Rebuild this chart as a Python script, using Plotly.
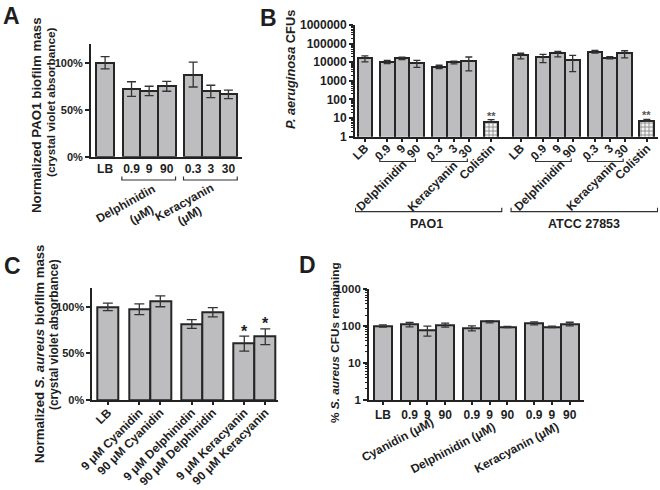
import math
import plotly.graph_objects as go

W, H = 660, 490
FONT = "Liberation Sans, Arial, sans-serif"
TXT = "#1e1e1e"
BAR_FILL = "#bdbdbf"
BAR_LINE = "#262626"
ERR = "#333333"

# ---------------- Panel A data ----------------
a_groups = [["LB"], ["0.9", "9", "90"], ["0.3", "3", "30"]]
a_group_names = ["", "Delphinidin", "Keracyanin"]
a_values = [1.00, 0.72, 0.70, 0.75, 0.875, 0.695, 0.663]
a_errors = [0.065, 0.078, 0.050, 0.053, 0.133, 0.066, 0.045]

# ---------------- Panel B data ----------------
b_strains = ["PAO1", "ATCC 27853"]
b_groups = [["LB"], ["0.9", "9", "90"], ["0.3", "3", "30"], ["Colistin"]]
b_group_names = ["", "Delphinidin", "Keracyanin", ""]
b_pao1_values = [16000, 10700, 16000, 9100, 5800, 10000, 11700, 5.9]
b_pao1_err_plus = [6000, 2000, 2500, 3600, 1100, 1500, 7400, 2.3]
b_pao1_err_minus = [5500, 2300, 2200, 3800, 1300, 1900, 8300, 0]
b_atcc_values = [23600, 18500, 30300, 13200, 37000, 17700, 30300, 6.7]
b_atcc_err_plus = [6700, 8200, 8300, 10400, 6700, 2300, 11000, 1.8]
b_atcc_err_minus = [8600, 9000, 11100, 10100, 5600, 2700, 13300, 0]
b_sig = ["", "", "", "", "", "", "", "**"]

# ---------------- Panel C data ----------------
c_groups = [["LB"], ["9 μM Cyanidin", "90 μM Cyanidin"],
            ["9 μM Delphinidin", "90 μM Delphinidin"],
            ["9 μM Keracyanin", "90 μM Keracyanin"]]
c_values = [1.00, 0.975, 1.06, 0.817, 0.942, 0.605, 0.68]
c_errors = [0.040, 0.058, 0.058, 0.047, 0.050, 0.081, 0.085]
c_sig = ["", "", "", "", "", "*", "*"]

# ---------------- Panel D data ----------------
d_groups = [["LB"], ["0.9", "9", "90"], ["0.9", "9", "90"], ["0.9", "9", "90"]]
d_group_names = ["", "Cyanidin (μM)", "Delphinidin (μM)", "Keracyanin (μM)"]
d_values = [100, 111, 76, 109, 90, 134, 96, 121, 96, 116]
d_err_plus = [9, 15, 24, 12, 12, 5, 2, 10, 4, 12]
d_err_minus = [6, 15, 22, 15, 15, 11, 4, 12, 4, 14]


def layout_positions(groups, gap=0.5, start=0.0):
    """Bar centres: bars touch inside a group, groups separated by a gap."""
    pos, spans, x = [], [], start
    for gi, g in enumerate(groups):
        if gi > 0:
            x += gap
        first = x
        for _ in g:
            pos.append(x)
            x += 1
        spans.append((first, x - 1))
    return pos, spans, x


def px(x):
    return x / W


def py(y):
    return 1 - y / H


a_pos, a_spans, _ = layout_positions(a_groups)
a_labels = [l for g in a_groups for l in g]

b_pos, b_spans, b_strain_spans = [], [], []
nxt = 0.0
for si, s in enumerate(b_strains):
    p, sp, end = layout_positions(b_groups, start=nxt)
    b_pos += p
    b_spans.append(sp)
    b_strain_spans.append((p[0], p[-1]))
    nxt = end + 1.0
b_labels = [l for g in b_groups for l in g] * 2
b_values = b_pao1_values + b_atcc_values
b_ep = b_pao1_err_plus + b_atcc_err_plus
b_em = b_pao1_err_minus + b_atcc_err_minus
b_sigs = b_sig * 2

c_pos, c_spans, _ = layout_positions(c_groups)
c_labels = [l for g in c_groups for l in g]

d_pos, d_spans, _ = layout_positions(d_groups)
d_labels = [l for g in d_groups for l in g]

fig = go.Figure()


def bar(x, y, xa, ya, ep, em, capw, fill=BAR_FILL, pattern=None):
    m = dict(color=fill, line=dict(color=BAR_LINE, width=2))
    if pattern:
        m["pattern"] = pattern
    return go.Bar(x=x, y=y, width=1, xaxis=xa, yaxis=ya, marker=m,
                  error_y=dict(type="data", array=ep, arrayminus=em, symmetric=False,
                               color=ERR, thickness=1.3, width=capw),
                  showlegend=False, hoverinfo="skip")


fig.add_trace(bar(a_pos, a_values, "x", "y", a_errors, a_errors, 4.5))

col_idx = [i for i, l in enumerate(b_labels) if l == "Colistin"]
oth_idx = [i for i, l in enumerate(b_labels) if l != "Colistin"]
fig.add_trace(bar([b_pos[i] for i in oth_idx], [b_values[i] for i in oth_idx], "x2", "y2",
                  [b_ep[i] for i in oth_idx], [b_em[i] for i in oth_idx], 3.5))
fig.add_trace(bar([b_pos[i] for i in col_idx], [b_values[i] for i in col_idx], "x2", "y2",
                  [b_ep[i] for i in col_idx], [b_em[i] for i in col_idx], 3.5,
                  fill="#f4f4f4",
                  pattern=dict(shape="+", fgcolor="#7a7a7a", bgcolor="#f4f4f4",
                               size=4, solidity=0.35, fillmode="replace")))

fig.add_trace(bar(c_pos, c_values, "x3", "y3", c_errors, c_errors, 5))
fig.add_trace(bar(d_pos, d_values, "x4", "y4", d_err_plus, d_err_minus, 4))

axis_common = dict(showline=True, linecolor="#222", linewidth=1.8, showgrid=False,
                   zeroline=False, ticks="outside", tickcolor="#222", tickwidth=1.5,
                   fixedrange=True, automargin=False)


def tf(size):
    return dict(family=FONT, size=size, color=TXT, weight="bold")


fig.update_layout(
    width=W, height=H, margin=dict(l=0, r=0, t=0, b=0, autoexpand=False),
    paper_bgcolor="white", plot_bgcolor="white", bargap=0,
    xaxis=dict(axis_common, domain=[px(91), px(242)], range=[-0.8, 7.77], anchor="y",
               tickmode="array", tickvals=a_pos, ticktext=a_labels, ticks="",
               tickfont=tf(12)),
    yaxis=dict(axis_common, domain=[py(156.7), py(44)], range=[0, 1.2], anchor="x",
               tickmode="array", tickvals=[0, 0.5, 1.0], ticktext=["0%", "50%", "100%"],
               ticklen=4, tickfont=tf(11)),
    xaxis2=dict(axis_common, domain=[px(355), px(658)], range=[-0.67, 19.75], anchor="y2",
                tickmode="array", tickvals=b_pos, ticktext=b_labels, ticklen=3,
                tickangle=-45, tickfont=tf(12), ticklabelstandoff=-5),
    yaxis2=dict(axis_common, domain=[py(136.7), py(25)], type="log", range=[0, 6],
                anchor="x2", tickmode="array", tickvals=[10 ** k for k in range(7)],
                ticktext=[str(10 ** k) for k in range(7)], ticklen=4, tickfont=tf(12),
                minor=dict(ticks="outside", ticklen=2, tickwidth=1, tickcolor="#222",
                           dtick="D1")),
    xaxis3=dict(axis_common, domain=[px(92.3), px(278.3)], range=[-0.74, 8.12],
                anchor="y3", tickmode="array", tickvals=c_pos, ticktext=c_labels,
                ticklen=3, tickangle=-45, tickfont=tf(12), ticklabelstandoff=-4),
    yaxis3=dict(axis_common, domain=[py(400), py(288.3)], range=[0, 1.2], anchor="x3",
                tickmode="array", tickvals=[0, 0.5, 1.0], ticktext=["0%", "50%", "100%"],
                ticklen=4, tickfont=tf(11)),
    xaxis4=dict(axis_common, domain=[px(369), px(584)], range=[-0.78, 11.3], anchor="y4",
                tickmode="array", tickvals=d_pos, ticktext=d_labels, ticklen=3,
                tickfont=tf(12)),
    yaxis4=dict(axis_common, domain=[py(400), py(289.3)], type="log", range=[0, 3],
                anchor="x4", tickmode="array", tickvals=[1, 10, 100, 1000],
                ticktext=["1", "10", "100", "1000"], ticklen=4, tickfont=tf(11.5),
                minor=dict(ticks="outside", ticklen=2, tickwidth=1, tickcolor="#222",
                           dtick="D1")),
)

ann = []
shapes = []


def text_px(text, x, y, size, angle=0):
    ann.append(dict(text="<b>" + text + "</b>", x=px(x), y=py(y), xref="paper", yref="paper",
                    showarrow=False, textangle=angle, xanchor="center", yanchor="middle",
                    font=dict(family=FONT, size=size, color=TXT)))


def bracket(xref, x0, x1, ypx, up=3.5):
    yb, yt = py(ypx), py(ypx - up)
    shapes.append(dict(type="path", xref=xref, yref="paper",
                       path=f"M {x0},{yt} L {x0},{yb} L {x1},{yb} L {x1},{yt}",
                       line=dict(color="#333", width=1.2)))


# Panel letters
text_px("A", 11, 16, 23)
text_px("B", 268, 18, 23)
text_px("C", 13, 266, 23)
text_px("D", 307, 265, 23)

# Axis titles
text_px("Normalized PAO1 biofilm mass", 36, 115, 13.3, -90)
text_px("(crystal violet absorbance)", 51, 102, 11.8, -90)
text_px("<i>P. aeruginosa</i> CFUs", 291, 70, 12.8, -90)
text_px("Normalized <i>S. aureus</i> biofilm mass", 39, 354, 13.2, -90)
text_px("(crystal violet absorbance)", 54, 335, 11.9, -90)
text_px("% <i>S. aureus</i> CFUs remaining", 335, 343, 11.8, -90)

# Panel A group brackets and labels
for (f, l), name in zip(a_spans, a_group_names):
    if name:
        bracket("x", f - 0.55, l + 0.5, 180)
text_px("Delphinidin", 125, 204, 12, -29)
text_px("(μM)", 141, 215, 12, -29)
text_px("Keracyanin", 185, 202, 12, -29)
text_px("(μM)", 189, 216, 12, -29)

# Panel B brackets and labels
b_label_px = [[(381, 186), (433, 186)], [(539, 186), (591, 186)]]
for si, spans in enumerate(b_spans):
    k = 0
    for (f, l), name in zip(spans, b_group_names):
        if name:
            bracket("x2", f - 0.5, l - 0.1, 161.5, 3)
            text_px(name, b_label_px[si][k][0], b_label_px[si][k][1], 12, -45)
            k += 1
for (f, l), s, cx in zip(b_strain_spans, b_strains, [426, 584]):
    bracket("x2", f - 0.65, l + 0.72, 211.7, 4)
    text_px(s, cx, 224, 12.5)

for x, v, e, s in zip(b_pos, b_values, b_ep, b_sigs):
    if s:
        ann.append(dict(text="<b>" + s + "</b>", x=x, y=math.log10(v + e), xref="x2", yref="y2",
                        showarrow=False, yanchor="middle", yshift=4,
                        font=dict(family=FONT, size=11, color="#555")))

for x, v, e, s in zip(c_pos, c_values, c_errors, c_sig):
    if s:
        ann.append(dict(text="<b>" + s + "</b>", x=x, y=v + e, xref="x3", yref="y3",
                        showarrow=False, yanchor="middle", yshift=5,
                        font=dict(family=FONT, size=16, color=TXT)))

# Panel D group labels
for (cx, cy), name in zip([(397, 440), (453, 448), (516, 448)], [n for n in d_group_names if n]):
    text_px(name, cx, cy, 12, -28)

fig.update_layout(annotations=ann, shapes=shapes)
fig.write_html("out.html", config={"displayModeBar": False},
               post_script="document.body.style.margin='0';document.body.style.overflow='hidden';")
